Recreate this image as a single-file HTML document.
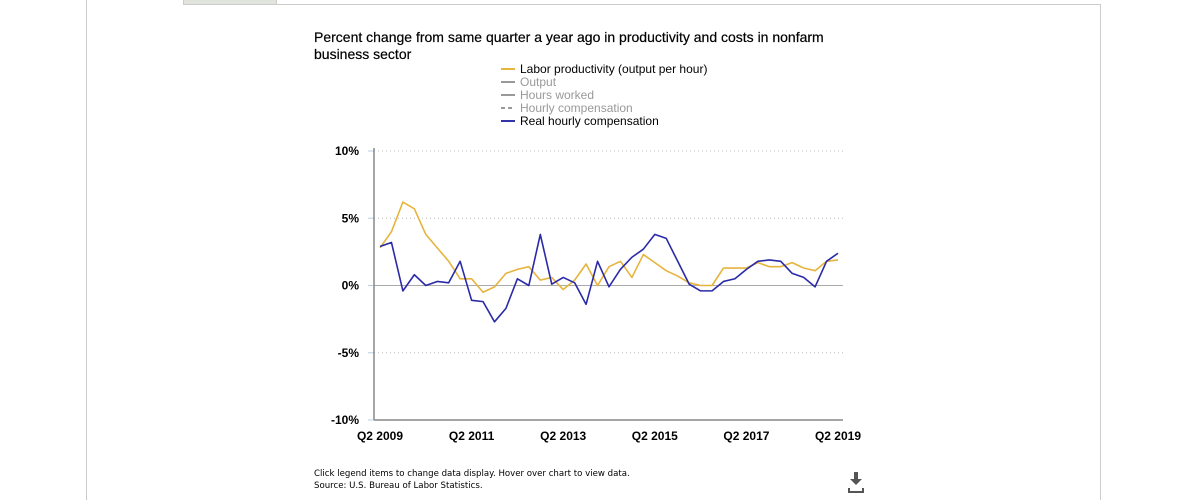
<!DOCTYPE html>
<html><head><meta charset="utf-8"><style>
body{margin:0;width:1192px;height:500px;background:#fff;font-family:"Liberation Sans",Arial,sans-serif;position:relative;overflow:hidden}
.abs{position:absolute}
svg text{font-family:"Liberation Sans",Arial,sans-serif;font-size:12px}
</style></head><body>
<div class="abs" style="left:86px;top:0;width:1px;height:500px;background:#ccc"></div>
<div class="abs" style="left:1100px;top:4px;width:1px;height:496px;background:#ccc"></div>
<div class="abs" style="left:183px;top:4px;width:918px;height:1px;background:#ccc"></div>
<div class="abs" style="left:183px;top:0;width:92px;height:4px;background:#e0e4dc;border:1px solid #ccc;border-top:none"></div>
<div class="abs" style="left:314px;top:29px;width:540px;font-size:14px;line-height:17px;color:#000;-webkit-text-stroke:0.2px #000">Percent change from same quarter a year ago in productivity and costs in nonfarm business sector</div>
<svg class="abs" style="left:0;top:0" width="1192" height="500" id="svg">
<g>
<g>
<g><line x1="501" x2="515" y1="69" y2="69" stroke="#e6b43c" stroke-width="2"/><text x="520" y="73" fill="#000">Labor productivity (output per hour)</text></g>
<g><line x1="501" x2="515" y1="82" y2="82" stroke="#999" stroke-width="2"/><text x="520" y="86" fill="#999">Output</text></g>
<g><line x1="501" x2="515" y1="95" y2="95" stroke="#999" stroke-width="2"/><text x="520" y="99" fill="#999">Hours worked</text></g>
<g><line x1="501" x2="515" y1="108" y2="108" stroke="#999" stroke-width="2" stroke-dasharray="4,3"/><text x="520" y="112" fill="#999">Hourly compensation</text></g>
<g><line x1="501" x2="515" y1="121" y2="121" stroke="#3333aa" stroke-width="2"/><text x="520" y="125" fill="#000">Real hourly compensation</text></g>
</g>
<g id="grid"></g><g id="axes"></g><g id="series"></g>
</g>
</svg>
<div class="abs" style="left:314px;top:468px;font-size:8.6px;line-height:12px;color:#000;font-family:'DejaVu Sans',sans-serif">Click legend items to change data display. Hover over chart to view data.<br>Source: U.S. Bureau of Labor Statistics.</div>
<svg class="abs" style="left:848px;top:472px" width="16" height="22"><rect x="6" y="0" width="4" height="8" fill="#555"/><polygon points="2,7 14,7 8,13" fill="#555"/><path d="M1,16 V20 H15 V16" stroke="#555" stroke-width="2" fill="none"/></svg>
<script>
const yTicks=[10,5,0,-5,-10];
const yTickLabels=["10%","5%","0%","-5%","-10%"];
const xTickIdx=[0,8,16,24,32,40];
const xTickLabels=["Q2 2009","Q2 2011","Q2 2013","Q2 2015","Q2 2017","Q2 2019"];
const laborProductivity=[2.8,4.0,6.2,5.7,3.8,2.8,1.8,0.5,0.5,-0.5,-0.1,0.9,1.2,1.4,0.4,0.6,-0.3,0.4,1.6,0,1.4,1.8,0.6,2.3,1.7,1.1,0.7,0.2,0,0,1.3,1.3,1.3,1.7,1.4,1.4,1.7,1.3,1.1,1.8,1.9];
const realHourlyComp=[2.9,3.2,-0.4,0.8,0,0.3,0.2,1.8,-1.1,-1.2,-2.7,-1.7,0.5,0,3.8,0.1,0.6,0.2,-1.4,1.8,-0.1,1.2,2.1,2.7,3.8,3.5,1.8,0.1,-0.4,-0.4,0.3,0.5,1.2,1.8,1.9,1.8,0.9,0.6,-0.1,1.8,2.4];
const NS="http://www.w3.org/2000/svg";
const X0=380,X1=838,AX=374,AR=843,Y0=151,Y1=420;
const xs=i=>X0+(X1-X0)*i/40;
const ys=v=>Y0+(10-v)*(Y1-Y0)/20;
function mk(t,a,p){const e=document.createElementNS(NS,t);for(const k in a)e.setAttribute(k,a[k]);p.appendChild(e);return e;}
const grid=document.getElementById('grid'),axes=document.getElementById('axes'),ser=document.getElementById('series');
yTicks.forEach((v,i)=>{
 let l;
 if(v===0){l=mk('line',{x1:AX,x2:AR,y1:ys(v),y2:ys(v),stroke:'#aaa','stroke-width':1},grid);}
 else if(v!==-10){l=mk('line',{x1:AX,x2:AR,y1:ys(v),y2:ys(v),stroke:'#bbb','stroke-width':1,'stroke-dasharray':'1,3'},grid);}
 if(l){
 }
 const tk=mk('line',{x1:AX-6,x2:AX,y1:ys(v),y2:ys(v),stroke:'#bcd','stroke-width':1},axes);
 
 
 const t=mk('text',{x:359,y:ys(v)+4,'text-anchor':'end','font-weight':'bold',fill:'#000'},axes);t.textContent=yTickLabels[i];
 
 
});
const ya=mk('line',{x1:AX,x2:AX,y1:Y0-3,y2:Y1,stroke:'#888','stroke-width':1.5},axes);


const xa=mk('line',{x1:AX,x2:AR,y1:Y1,y2:Y1,stroke:'#888','stroke-width':1.5},axes);


xTickIdx.forEach((q,i)=>{
 const t=mk('text',{x:xs(q),y:440,'text-anchor':'middle','font-weight':'bold',fill:'#000'},axes);t.textContent=xTickLabels[i];
 
 
});
function line(d,c,n){
 const p=mk('polyline',{points:d.map((v,i)=>xs(i)+','+ys(v)).join(' '),fill:'none',stroke:c,'stroke-width':1.6,'stroke-linejoin':'round'},ser);
 
 
}
line(laborProductivity,'#e6b43c','labor-productivity-line');
line(realHourlyComp,'#2a2aa8','real-hourly-compensation-line');
</script>
</body></html>
